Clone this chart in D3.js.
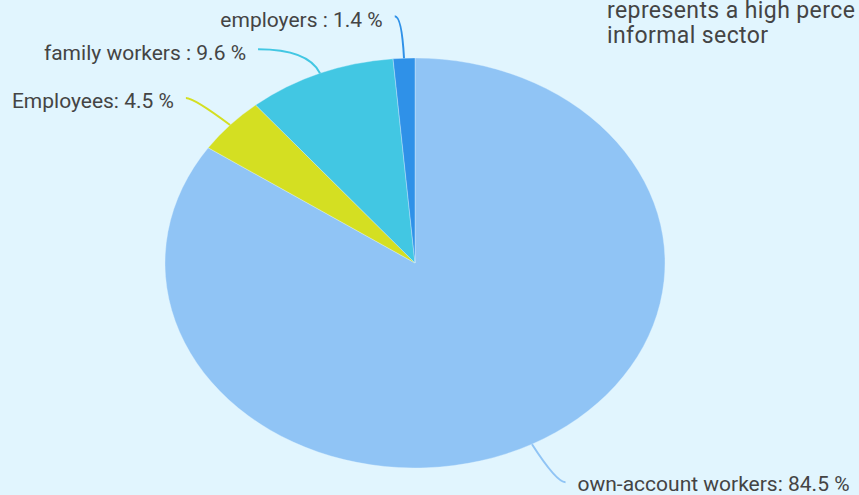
<!DOCTYPE html>
<html>
<head>
<meta charset="utf-8">
<script src="https://cdn.jsdelivr.net/npm/d3@7"></script>
<style>
  html, body { margin: 0; padding: 0; background: #e1f5fe; overflow: hidden; }
  svg { display: block; font-family: Roboto, "Noto Sans", sans-serif; }
</style>
</head>
<body>
<svg id="chart"></svg>
<script>
// Slice data, clockwise from 12 o'clock
const categories = ["own-account workers", "Employees", "family workers", "employers"];
const values = [84.5, 4.5, 9.6, 1.4];
const labelText = ["own-account workers: 84.5 %", "Employees: 4.5 %", "family workers : 9.6 %", "employers : 1.4 %"];
const colors = ["#90c4f5", "#d4df22", "#42c7e3", "#2f91e8"];
const titleLines = ["represents a high perce", "informal sector"];

// Set up dimensions
const width = 859, height = 495;
const cx = 415, cy = 263;
const rx = 250, ry = 205;

// Label placement: vertical offset of the connector end from the slice edge,
// its horizontal run, and which side the label sits on
const labelLayout = [
  { dy: 38, run: 9, side: "right" },
  { dy: -27, run: 8, side: "left" },
  { dy: -24, run: 50, side: "left" },
  { dy: -42, run: 7, side: "left" }
];

const svg = d3.select("#chart")
  .attr("width", width)
  .attr("height", height);

const pie = d3.pie().sort(null).value(d => d)(values);

const arc = d3.arc().innerRadius(0).outerRadius(ry);

// Pie drawn as a circle and stretched horizontally into an ellipse
const g = svg.append("g")
  .attr("transform", `translate(${cx},${cy}) scale(${rx / ry},1)`);

g.selectAll("path")
  .data(pie)
  .enter()
  .append("path")
  .attr("d", arc)
  .attr("fill", (d, i) => colors[i])
  .attr("stroke", "#e1f5fe")
  .attr("stroke-width", 0.6)
  .attr("stroke-opacity", 0.6)
  .attr("vector-effect", "non-scaling-stroke");

// Connectors and labels
pie.forEach((d, i) => {
  const a = (d.startAngle + d.endAngle) / 2;
  const ux = rx * Math.sin(a), uy = -ry * Math.cos(a);
  const ax = cx + ux, ay = cy + uy;
  const lay = labelLayout[i];
  const sign = lay.side === "right" ? 1 : -1;

  // corner where the radial direction meets the label's level
  const ky = ay + lay.dy;
  const kx = ax + ux / uy * lay.dy;
  const bx = kx + sign * lay.run, by = ky;

  const p = d3.path();
  p.moveTo(ax, ay);
  p.quadraticCurveTo(kx, ky, bx, by);

  svg.append("path")
    .attr("d", p.toString())
    .attr("fill", "none")
    .attr("stroke", colors[i])
    .attr("stroke-width", 2);

  svg.append("text")
    .attr("x", bx + sign * 12)
    .attr("y", by + (sign > 0 ? 1 : 3))
    .attr("dy", "0.35em")
    .attr("text-anchor", sign > 0 ? "start" : "end")
    .attr("fill", "#444")
    .style("font-size", "21px")
    .text(labelText[i]);
});

// Title (runs off the right edge of the frame)
svg.append("text")
  .attr("x", 607)
  .attr("y", 18)
  .attr("fill", "#444")
  .style("font-size", "23px")
  .style("letter-spacing", "0.4px")
  .selectAll("tspan")
  .data(titleLines)
  .enter()
  .append("tspan")
  .attr("x", 607)
  .attr("dy", (d, i) => i === 0 ? 0 : 25)
  .text(d => d);
</script>
</body>
</html>
